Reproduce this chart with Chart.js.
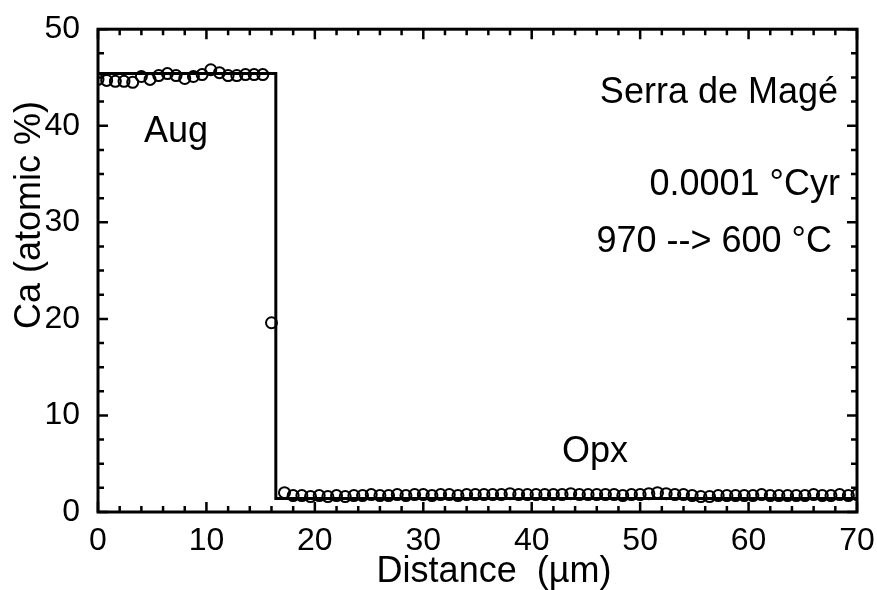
<!DOCTYPE html>
<html>
<head>
<meta charset="utf-8">
<script src="https://cdn.jsdelivr.net/npm/chart.js@4/dist/chart.umd.min.js"></script>
<style>
  html, body { margin: 0; padding: 0; background: #fff; }
  #wrap { width: 877px; height: 590px; }
</style>
</head>
<body>
<div id="wrap"><canvas id="caChart" width="877" height="590"></canvas></div>
<script>
// Measured Ca profile (distance in µm, Ca atomic %)
const augX = [0, 0.8, 1.6, 2.4, 3.2, 4.0, 4.8, 5.6, 6.4, 7.2, 8.0, 8.8, 9.6, 10.4, 11.2, 12.0, 12.8, 13.6, 14.4, 15.2];
const augY = [44.8, 44.7, 44.6, 44.6, 44.5, 45.1, 44.8, 45.2, 45.4, 45.2, 44.9, 45.1, 45.3, 45.8, 45.5, 45.2, 45.2, 45.3, 45.3, 45.3];

const boundaryX = [16.0];
const boundaryY = [19.6];

const opxX = [17.2, 18.0, 18.8, 19.6, 20.4, 21.2, 22.0, 22.8, 23.6, 24.4,
  25.2, 26.0, 26.8, 27.6, 28.4, 29.2, 30.0, 30.8, 31.6, 32.4,
  33.2, 34.0, 34.8, 35.6, 36.4, 37.2, 38.0, 38.8, 39.6, 40.4,
  41.2, 42.0, 42.8, 43.6, 44.4, 45.2, 46.0, 46.8, 47.6, 48.4,
  49.2, 50.0, 50.8, 51.6, 52.4, 53.2, 54.0, 54.8, 55.6, 56.4,
  57.2, 58.0, 58.8, 59.6, 60.4, 61.2, 62.0, 62.8, 63.6, 64.4,
  65.2, 66.0, 66.8, 67.6, 68.4, 69.2, 70.0];
const opxY = [2.0, 1.7, 1.7, 1.6, 1.7, 1.6, 1.7, 1.6, 1.7, 1.7,
  1.8, 1.7, 1.7, 1.8, 1.7, 1.8, 1.8, 1.7, 1.8, 1.8,
  1.7, 1.8, 1.8, 1.8, 1.8, 1.8, 1.9, 1.8, 1.8, 1.8,
  1.8, 1.8, 1.8, 1.9, 1.8, 1.8, 1.8, 1.8, 1.8, 1.7,
  1.8, 1.8, 1.9, 2.0, 1.9, 1.8, 1.8, 1.7, 1.6, 1.6,
  1.7, 1.7, 1.7, 1.7, 1.7, 1.8, 1.7, 1.7, 1.7, 1.7,
  1.7, 1.8, 1.7, 1.7, 1.8, 1.7, 1.8];

// Model profile (step)
const modelX = [0, 16.4, 16.4, 70];
const modelY = [45.4, 45.4, 1.4, 1.4];

// Axis ticks
const xTickLabels = [0, 10, 20, 30, 40, 50, 60, 70];
const yTickLabels = [0, 10, 20, 30, 40, 50];

const FONT = "'Liberation Sans', Arial, Helvetica, sans-serif";

function toPoints(xs, ys) {
  return xs.map((x, i) => ({ x: x, y: ys[i] }));
}

const measured = toPoints(augX, augY)
  .concat(toPoints(boundaryX, boundaryY))
  .concat(toPoints(opxX, opxY));

// Frame with inward ticks on all four sides, plus titles and labels
const frameAndText = {
  id: "frameAndText",
  afterDraw(chart) {
    const ctx = chart.ctx;
    const a = chart.chartArea;
    const xs = chart.scales.x, ys = chart.scales.y;
    ctx.save();
    ctx.strokeStyle = "#000";
    ctx.lineWidth = 3;
    ctx.strokeRect(a.left, a.top, a.right - a.left, a.bottom - a.top);

    ctx.lineWidth = 2.5;
    ctx.beginPath();
    for (let v = xs.min; v <= xs.max + 0.001; v += 2) {
      const px = xs.getPixelForValue(v);
      const len = (v % 10 === 0) ? 10 : 6;
      ctx.moveTo(px, a.bottom); ctx.lineTo(px, a.bottom - len);
      ctx.moveTo(px, a.top); ctx.lineTo(px, a.top + len);
    }
    for (let v = ys.min; v <= ys.max + 0.001; v += 2.5) {
      const py = ys.getPixelForValue(v);
      const len = (v % 10 === 0) ? 10 : 6;
      ctx.moveTo(a.left, py); ctx.lineTo(a.left + len, py);
      ctx.moveTo(a.right, py); ctx.lineTo(a.right - len, py);
    }
    ctx.stroke();

    ctx.fillStyle = "#000";
    ctx.textBaseline = "middle";

    // axis titles
    ctx.font = "36px " + FONT;
    ctx.textAlign = "center";
    ctx.fillText("Distance  (\u00b5m)", 494, 572);
    ctx.save();
    ctx.translate(30, 215);
    ctx.rotate(-Math.PI / 2);
    ctx.fillText("Ca (atomic %)", 0, 0);
    ctx.restore();

    // annotations
    ctx.font = "36px " + FONT;
    ctx.textAlign = "right";
    ctx.fillText("Serra de Mag\u00e9", 838, 93);
    ctx.fillText("0.0001 \u00b0Cyr", 840, 185);
    ctx.fillText("970 --> 600 \u00b0C", 832, 242);
    ctx.textAlign = "center";
    ctx.fillText("Aug", 176, 132);
    ctx.fillText("Opx", 595, 452);
    ctx.restore();
  }
};

new Chart(document.getElementById("caChart"), {
  type: "scatter",
  data: {
    datasets: [
      {
        label: "model",
        data: toPoints(modelX, modelY),
        showLine: true,
        borderColor: "#000",
        borderWidth: 3,
        pointRadius: 0,
        fill: false,
        order: 2
      },
      {
        label: "measured",
        data: measured,
        showLine: false,
        pointStyle: "circle",
        pointRadius: 5.5,
        pointBorderWidth: 2,
        pointBorderColor: "#000",
        pointBackgroundColor: "rgba(255,255,255,0)",
        order: 1
      }
    ]
  },
  options: {
    responsive: false,
    animation: false,
    devicePixelRatio: 1,
    layout: { padding: { left: 0, top: 28, right: 20, bottom: 0 } },
    plugins: {
      legend: { display: false },
      tooltip: { enabled: false }
    },
    scales: {
      x: {
        type: "linear",
        min: 0,
        max: 70,
        afterFit: (s) => { s.height = 78; },
        afterBuildTicks: (s) => { s.ticks = xTickLabels.map(v => ({ value: v })); },
        grid: { display: false },
        border: { display: false },
        ticks: { color: "#000", padding: 2, maxRotation: 0, font: { family: FONT, size: 32 } }
      },
      y: {
        type: "linear",
        min: 0,
        max: 50,
        afterFit: (s) => { s.width = 98; },
        afterBuildTicks: (s) => { s.ticks = yTickLabels.map(v => ({ value: v })); },
        grid: { display: false },
        border: { display: false },
        ticks: { color: "#000", padding: 10, font: { family: FONT, size: 32 } }
      }
    }
  },
  plugins: [frameAndText]
});
</script>
</body>
</html>
